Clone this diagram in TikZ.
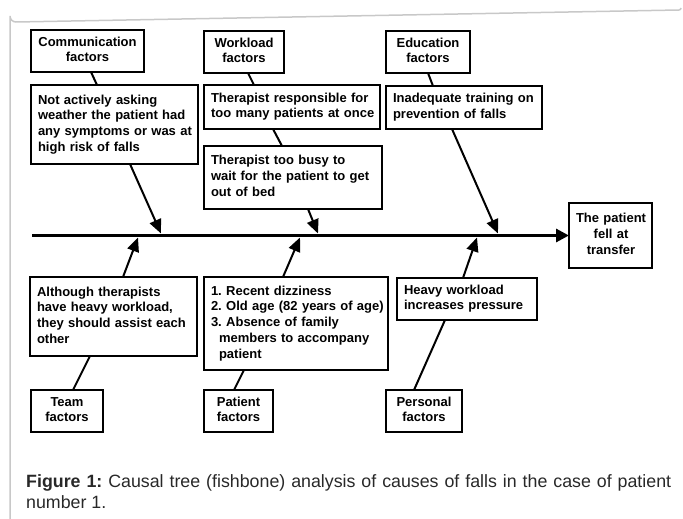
\documentclass[tikz,border=0pt]{standalone}
\usepackage{fontspec}
\setmainfont{Liberation Sans}
\usetikzlibrary{arrows.meta,calc}
\frenchspacing
\definecolor{framegray}{RGB}{200,200,200}
\definecolor{captext}{RGB}{40,40,40}
\tikzset{
  box/.style={draw, line width=1.6pt, anchor=north west, inner xsep=7pt, inner ysep=0pt, outer sep=0pt,
    font=\bfseries\fontsize{13}{15.7}\selectfont},
  al c/.style={align=center},
  al l/.style={align=left},
  link/.style={line width=2pt},
  arr/.style={line width=2pt, -{Triangle[length=14pt,width=12pt]}},
  spine/.style={line width=3pt, -{Triangle[length=13pt,width=13pt]}},
  frame/.style={draw=framegray, line width=1.5pt},
}
\newcommand\fbx[7]{%
  \pgfmathsetmacro\bw{#4-#2}\pgfmathsetmacro\bh{#5-#3}\pgfmathsetmacro\tw{#4-#2-14}%
  \node[box, al #6, minimum width=\bw pt, minimum height=\bh pt, text width=\tw pt] (#1) at (#2,#3)
    {\begin{tabular}{@{}#6@{}}#7\end{tabular}};}
\begin{document}
\frenchspacing
\begin{tikzpicture}[x=1pt,y=-1pt]
\useasboundingbox (0,0) rectangle (683,519);
% frame
\draw[frame] (10,519) -- (10,16) arc[start angle=180,end angle=90,radius=6] -- (679,10) arc[start angle=90,end angle=0,radius=2];
% boxes
\fbx{cf}{31}{30}{144}{72}{c}{Communication\\factors}
\fbx{ct}{31}{85}{198}{164}{l}{Not actively asking\\weather the patient had\\any symptoms or was at\\high risk of falls}
\fbx{wf}{204}{31}{284}{73}{c}{Workload\\factors}
\fbx{wt1}{204}{85}{380}{129}{l}{Therapist responsible for\\too many patients at once}
\fbx{wt2}{204}{146}{382}{209}{l}{Therapist too busy to\\wait for the patient to get\\out of bed}
\fbx{ef}{386}{31}{470}{73}{c}{Education\\factors}
\fbx{et}{386}{86}{542}{129}{l}{Inadequate training on\\prevention of falls}
\fbx{res}{569}{203}{652}{268}{c}{The patient\\fell at\\transfer}
\fbx{tt}{30}{277}{197}{356}{l}{Although therapists\\have heavy workload,\\they should assist each\\other}
\fbx{tf}{31}{390}{103}{432}{c}{Team\\factors}
\fbx{pt}{204}{277}{388}{370}{l}{1. Recent dizziness\\2. Old age (82 years of age)\\3. Absence of family\\\hspace*{8pt}members to accompany\\\hspace*{8pt}patient}
\fbx{pf}{204}{390}{273}{432}{c}{Patient\\factors}
\fbx{ht}{397}{278}{537}{320}{l}{Heavy workload\\increases pressure}
\fbx{perf}{386}{390}{462}{432}{c}{Personal\\factors}
% spine
\coordinate (tail) at (32,235.5);
\draw[spine] (tail) -- (res.west);
\coordinate (s1) at (161,233.5);
\coordinate (s2) at (318,233.5);
\coordinate (s3) at (498,233.5);
\coordinate (s4) at (138,237.5);
\coordinate (s5) at (300,237.5);
\coordinate (s6) at (477,237.5);
% upper connectors
\draw[link] ($(cf.south west)+(60,0)$) -- ($(ct.north west)+(66,0)$);
\draw[arr] ($(ct.south west)+(99,0)$) -- (s1);
\draw[link] ($(wf.south west)+(44,0)$) -- ($(wt1.north west)+(50,0)$);
\draw[link] ($(wt1.south west)+(69,0)$) -- ($(wt2.north west)+(78,0)$);
\draw[arr] ($(wt2.south west)+(104,0)$) -- (s2);
\draw[link] ($(ef.south west)+(42,0)$) -- ($(et.north west)+(47,0)$);
\draw[arr] ($(et.south west)+(66,0)$) -- (s3);
% lower connectors
\draw[arr] ($(tt.north west)+(93,0)$) -- (s4);
\draw[link] ($(tt.south west)+(60,0)$) -- ($(tf.north west)+(42,0)$);
\draw[arr] ($(pt.north west)+(79,0)$) -- (s5);
\draw[link] ($(pt.south west)+(40,0)$) -- ($(pf.north west)+(30,0)$);
\draw[arr] ($(ht.north west)+(66,0)$) -- (s6);
\draw[link] ($(ht.south west)+(48,0)$) -- ($(perf.north west)+(28,0)$);
% caption
\node[anchor=base west, align=left, inner sep=0pt, text=captext, font=\fontsize{17.8}{20.5}\selectfont] (cap) at (26,508)
  {\makebox[645pt][s]{\textbf{Figure 1:} Causal tree (fishbone) analysis of causes of falls in the case of patient}\\number 1.};
\end{tikzpicture}
\end{document}
